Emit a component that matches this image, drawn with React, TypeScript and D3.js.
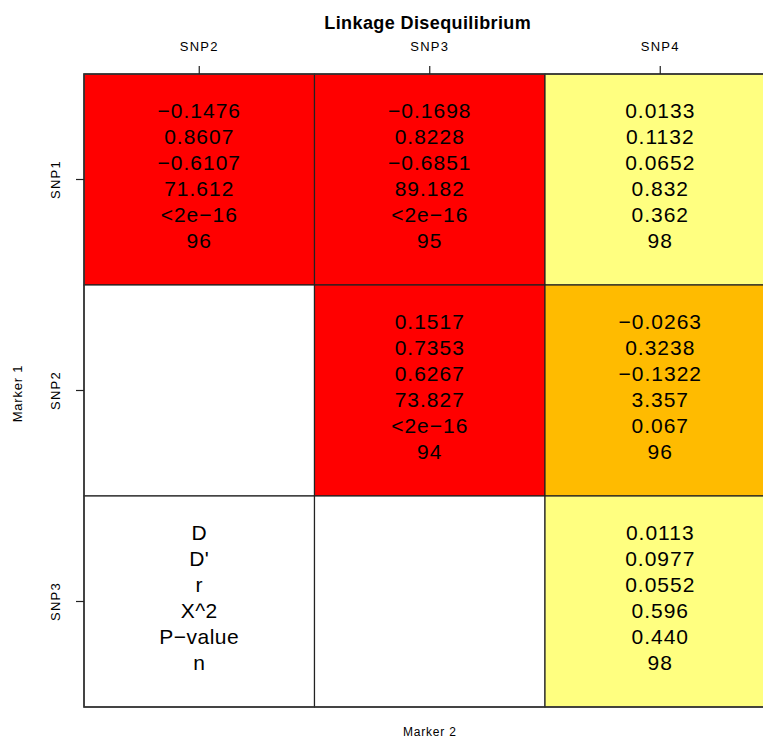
import React from "react";
import * as d3 from "d3";

const title = "Linkage Disequilibrium";
const marker1 = ["SNP1", "SNP2", "SNP3"];
const marker2 = ["SNP2", "SNP3", "SNP4"];
const xLabel = "Marker 2";
const yLabel = "Marker 1";
const statNames = ["D", "D'", "r", "X^2", "P-value", "n"];

// rows = marker1, cols = marker2 (null = no entry)
const Dvals = [
  [-0.1476, -0.1698, 0.0133],
  [null, 0.1517, -0.0263],
  [null, null, 0.0113],
];
const Dprime = [
  [0.8607, 0.8228, 0.1132],
  [null, 0.7353, 0.3238],
  [null, null, 0.0977],
];
const rVals = [
  [-0.6107, -0.6851, 0.0652],
  [null, 0.6267, -0.1322],
  [null, null, 0.0552],
];
const X2vals = [
  [71.612, 89.182, 0.832],
  [null, 73.827, 3.357],
  [null, null, 0.596],
];
const Pvals = [
  [1e-17, 1e-17, 0.362],
  [null, 1e-17, 0.067],
  [null, null, 0.44],
];
const Nvals = [
  [96, 95, 98],
  [null, 94, 96],
  [null, null, 98],
];

const colorCuts = [0.01, 0.1];
const colorRange = ["#FF0000", "#FFBB00", "#FFFF80"];

const W = 763;
const H = 740;
const left = 84;
const right = 775.5;
const top = 74;
const bottom = 707;
const FONT = "'Liberation Sans', Arial, Helvetica, sans-serif";

const minus = (s: string) => s.replace(/-/g, "\u2212");
const f4 = d3.format(".4f");
const f3 = d3.format(".3f");
const fmtP = (p: number) => (p < 2e-16 ? "<2e-16" : f3(p));

export default function App() {
  const x = d3.scaleBand<string>().domain(marker2).range([left, right]);
  const y = d3.scaleBand<string>().domain(marker1).range([top, bottom]);
  const color = d3.scaleThreshold<number, string>().domain(colorCuts).range(colorRange);
  const cw = x.bandwidth();
  const ch = y.bandwidth();
  const lineH = 26;

  const cells: React.ReactNode[] = [];
  marker1.forEach((m1, i) => {
    marker2.forEach((m2, j) => {
      const p = Pvals[i][j];
      const has = p !== null;
      const x0 = x(m2)!;
      const y0 = y(m1)!;
      const cx = x0 + cw / 2;
      const cy = y0 + ch / 2;
      let lines: string[] = [];
      if (has) {
        lines = [
          minus(f4(Dvals[i][j] as number)),
          minus(f4(Dprime[i][j] as number)),
          minus(f4(rVals[i][j] as number)),
          minus(f3(X2vals[i][j] as number)),
          minus(fmtP(p as number)),
          String(Nvals[i][j]),
        ];
      } else if (i === marker1.length - 1 && j === 0) {
        lines = statNames.map(minus);
      }
      cells.push(
        <g key={`${i}-${j}`}>
          <rect x={x0} y={y0} width={cw} height={ch} fill={has ? color(p as number) : "#FFFFFF"} stroke="#222" strokeWidth={1.2} />
          {lines.map((t, k) => (
            <text
              key={k}
              x={cx}
              y={cy + (k - 2.5) * lineH + 3}
              textAnchor="middle"
              fontSize={21}
              letterSpacing={has ? 1 : 0.5}
              fontFamily={FONT}
              fill="#000"
            >
              {t}
            </text>
          ))}
        </g>
      );
    });
  });

  return (
    <svg width={W} height={H} style={{ position: "absolute", left: 0, top: 0 }} fontFamily={FONT}>
      <rect x={0} y={0} width={W} height={H} fill="#fff" />
      {cells}
      <rect x={left} y={top} width={right - left} height={bottom - top} fill="none" stroke="#333" strokeWidth={1.5} />
      {/* top axis */}
      {marker2.map((m) => {
        const cx = x(m)! + cw / 2;
        return (
          <g key={m}>
            <line x1={cx} x2={cx} y1={top} y2={top - 8} stroke="#222" strokeWidth={1.2} />
            <text x={cx} y={51} textAnchor="middle" fontSize={13} letterSpacing={1.2} fill="#000">
              {m}
            </text>
          </g>
        );
      })}
      {/* left axis */}
      {marker1.map((m) => {
        const cy = y(m)! + ch / 2;
        return (
          <g key={m}>
            <line x1={left} x2={left - 8} y1={cy} y2={cy} stroke="#222" strokeWidth={1.2} />
            <text transform={`translate(60,${cy}) rotate(-90)`} textAnchor="middle" fontSize={13} letterSpacing={1.2} fill="#000">
              {m}
            </text>
          </g>
        );
      })}
      <text x={(left + right) / 2 - 2} y={29} textAnchor="middle" fontSize={18} fontWeight="bold" letterSpacing={0.4} fill="#000">
        {title}
      </text>
      <text x={(left + right) / 2} y={736} textAnchor="middle" fontSize={12} letterSpacing={0.8} fill="#000">
        {xLabel}
      </text>
      <text transform={`translate(22,${(top + bottom) / 2 + 3}) rotate(-90)`} textAnchor="middle" fontSize={13} letterSpacing={0.8} fill="#000">
        {yLabel}
      </text>
    </svg>
  );
}
